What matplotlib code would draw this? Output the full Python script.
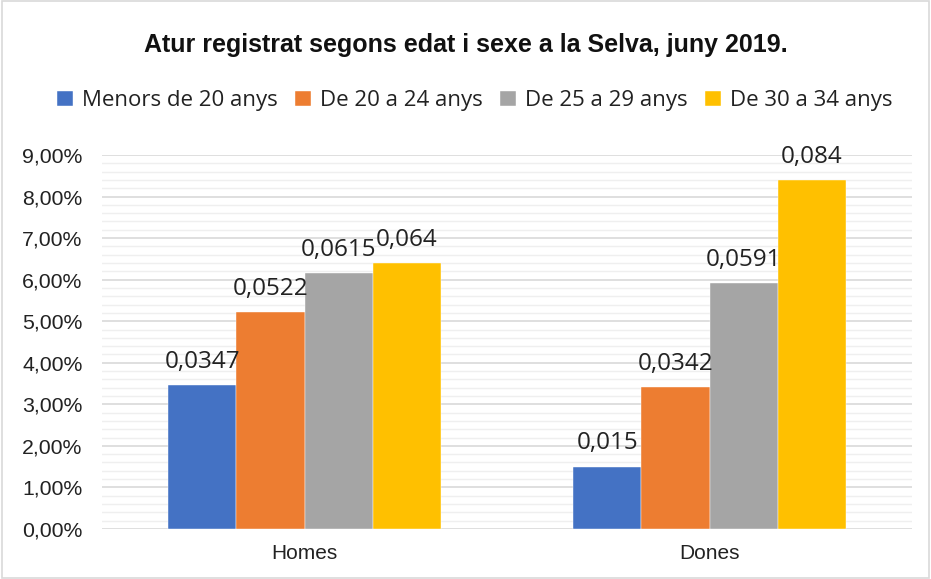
import matplotlib
matplotlib.use("Agg")
import matplotlib.pyplot as plt
from matplotlib.ticker import FuncFormatter, MultipleLocator
from matplotlib.patches import Rectangle
import numpy as np

categories = ["Homes", "Dones"]
series_names = ["Menors de 20 anys", "De 20 a 24 anys", "De 25 a 29 anys", "De 30 a 34 anys"]
values = {
    "Menors de 20 anys": [0.0347, 0.015],
    "De 20 a 24 anys": [0.0522, 0.0342],
    "De 25 a 29 anys": [0.0615, 0.0591],
    "De 30 a 34 anys": [0.064, 0.084],
}
label_texts = {
    "Menors de 20 anys": ["0,0347", "0,015"],
    "De 20 a 24 anys": ["0,0522", "0,0342"],
    "De 25 a 29 anys": ["0,0615", "0,0591"],
    "De 30 a 34 anys": ["0,064", "0,084"],
}
colors = ["#4472C4", "#ED7D31", "#A5A5A5", "#FFC000"]
title = "Atur registrat segons edat i sexe a la Selva, juny 2019."

fig = plt.figure(figsize=(9.31, 5.79), dpi=100)
fig.patches.append(Rectangle((0.002, 0.002), 0.996, 0.996, transform=fig.transFigure,
                             fill=False, edgecolor="#D9D9D9", linewidth=1.2))
ax = fig.add_axes([0.1096, 0.0864, 0.87, 0.6459])

x = np.arange(len(categories))
bw = 0.168
for i, (name, c) in enumerate(zip(series_names, colors)):
    pos = x + (i - 1.5) * bw
    ax.bar(pos, values[name], width=bw, color=c, label=name, zorder=3,
           edgecolor="white", linewidth=0.3)
    for p, v, t in zip(pos, values[name], label_texts[name]):
        ax.text(p, v + 0.0027, t, ha="center", va="bottom", fontsize=17.5,
                family="Open Sans", color="#222222", zorder=4)

ax.set_xlim(-0.5, 1.5)
ax.set_ylim(0, 0.09)
ax.yaxis.set_major_locator(MultipleLocator(0.01))
ax.yaxis.set_minor_locator(MultipleLocator(0.002))
ax.yaxis.set_major_formatter(FuncFormatter(lambda v, p: f"{v*100:.2f}%".replace(".", ",")))
ax.grid(which="major", axis="y", color="#D9D9D9", linewidth=1.2, zorder=0)
ax.grid(which="minor", axis="y", color="#EFEFEF", linewidth=1.0, zorder=0)
for s in ax.spines.values():
    s.set_visible(False)
ax.tick_params(axis="both", which="both", length=0)
ax.tick_params(axis="y", pad=14, labelsize=15.3, labelcolor="#222222")
ax.tick_params(axis="x", pad=11, labelsize=15, labelcolor="#222222")
ax.set_xticks(x)
ax.set_xticklabels(categories)
for lab in ax.get_yticklabels() + ax.get_xticklabels():
    lab.set_family("Liberation Sans")

fig.text(0.5, 0.922, title, ha="center", va="center", fontsize=18,
         fontweight="bold", family="Liberation Sans", color="#111111")
leg = fig.legend(loc="center", bbox_to_anchor=(0.51, 0.826), ncol=4, frameon=False,
                 handlelength=0.7, handleheight=0.7, handletextpad=0.4,
                 columnspacing=0.8, prop={"family": "Open Sans", "size": 16})
for t in leg.get_texts():
    t.set_color("#222222")

fig.savefig("out.png", dpi=100)
